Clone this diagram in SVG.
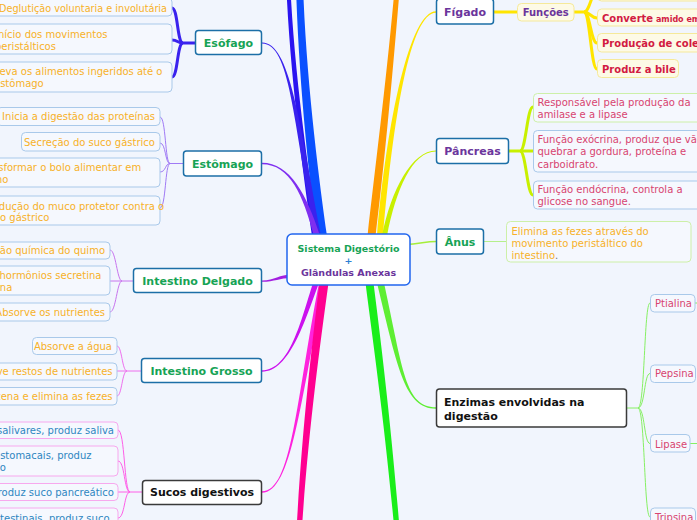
<svg xmlns="http://www.w3.org/2000/svg" width="697" height="520" viewBox="0 0 697 520">
<style>
text{font-family:"DejaVu Sans",Verdana,sans-serif}
.mn rect{fill:#fff;stroke:#1c6fa7;stroke-width:1.5}
.mn text{font-size:11px;font-weight:bold;text-anchor:middle}
.dk rect{stroke:#3a3a3a}
.g{fill:#17a355}
.p{fill:#6b359c}
.k{fill:#111}
.lf rect{fill:#f5f8fe;stroke:#a9c9ea;stroke-width:1}
.lf text{font-size:10px}
.o{fill:#f7b128}
.b{fill:#2e86c1}
.r{fill:#d84470}
.e{text-anchor:end}
.pk rect{stroke:#f7a8ee}
.yl rect{fill:#fdfae6;stroke:#f5e99a}
.yl text{font-weight:bold;fill:#d21b42}
.lg rect{stroke:#cdf0a8}
.cn{fill:none}
</style>
<rect width="697" height="520" fill="#f1f5fd"/>

<g id="connectors">
  <path fill="#2a14f0" d="M285.5,-40 C287.5,60 304,180 312,236 L318,236 C310,180 291.5,60 289.5,-40 Z"/>
  <path fill="#0a50ff" d="M295.5,-40 C296.5,60 309,180 317,236 L327,236 C319,180 303.5,60 302.5,-40 Z"/>
  <path fill="#3a22ee" d="M262,42.5 C290,42.5 299,120 321,236 L315,236 C293,120 290,43.5 262,43.5 Z"/>
  <path fill="#7f2ff0" d="M262,162.8 C290,162.8 307,195 320,236 L314,236 C303,195 290,164.2 262,164.2 Z"/>
  <path fill="#a31fe0" d="M262,280.4 C275,280.4 279,274.5 292,274.5 L292,278 C279,278 275,281.8 262,281.8 Z"/>
  <path fill="#cc11ee" d="M262,370.3 C290,370.3 301,320 313,283 L319,283 C305,320 290,371.7 262,371.7 Z"/>
  <path fill="#ff22dd" d="M262,491.3 C292,491.3 296,400 319,283 L325,283 C300,400 292,492.7 262,492.7 Z"/>
  <path fill="#ff0090" d="M319.5,283 C310,360 300,450 295,560 L300,560 C306,450 318,360 328.5,283 Z"/>
  <path fill="#ff9900" d="M367.5,236 C376,160 389,60 397,-40 L402,-40 C394,60 385,160 375.5,236 Z"/>
  <path fill="#ffe500" d="M436,11.3 C410,11.3 387,120 377,236 L383,236 C393,120 410,12.7 436,12.7 Z"/>
  <path fill="#c8f000" d="M436,150.4 C412,150.4 391,190 382,236 L387,236 C396,190 412,151.6 436,151.6 Z"/>
  <path class="cn" stroke="#a5ee3a" stroke-width="1.6" d="M436,241.5 C425,241.5 420,244 405,244.5"/>
  <path fill="#1aee1a" d="M365.5,283 C374,350 387,440 397,560 L402,560 C393,440 382,350 373.5,283 Z"/>
  <path fill="#5eee33" d="M436,407.3 C405,407.3 403,370 384,283 L377,283 C398,370 405,408.7 436,408.7 Z"/>

  <g class="cn" stroke="#3a22ee" stroke-width="3">
    <path d="M195,43 H183"/>
    <path d="M183,43 C177,43 178,8 172,8"/>
    <path d="M183,43 C177,43 178,40 172,40"/>
    <path d="M183,43 C177,43 178,77 172,77"/>
  </g>
  <g class="cn" stroke="#a07af5" stroke-width="1">
    <path d="M183,163.5 H170"/>
    <path d="M170,163.5 C165,163.5 166,117 160,117"/>
    <path d="M170,163.5 C165,163.5 166,143 160,143"/>
    <path d="M170,163.5 C165,163.5 166,172 160,172"/>
    <path d="M170,163.5 C165,163.5 166,208 160,208"/>
  </g>
  <g class="cn" stroke="#c874ee" stroke-width="1">
    <path d="M133,281 H110"/>
    <path d="M122,281 C117,281 116,250 110,250"/>
    <path d="M122,281 C117,281 116,312 110,312"/>
  </g>
  <g class="cn" stroke="#ee6fee" stroke-width="1">
    <path d="M141,371 H117"/>
    <path d="M127,371 C122,371 122,346 117,346"/>
    <path d="M127,371 C122,371 122,396 117,396"/>
  </g>
  <g class="cn" stroke="#ff5ee8" stroke-width="1">
    <path d="M142,492 H118"/>
    <path d="M130,492 C124,492 125,430 118,430"/>
    <path d="M130,492 C124,492 125,461 118,461"/>
    <path d="M130,492 C124,492 125,518 118,518"/>
  </g>
  <g class="cn" stroke="#ffe500" stroke-width="3">
    <path d="M494,12 H517"/>
    <path d="M574,12 H584"/>
    <path d="M584,12 C590,12 591,-8 597,-8"/>
    <path d="M584,12 C590,12 591,18 597,18"/>
    <path d="M584,12 C590,12 591,43 597,43"/>
    <path d="M584,12 C590,12 591,69 597,69"/>
  </g>
  <g class="cn" stroke="#c8f000" stroke-width="3">
    <path d="M509,151 H533"/>
    <path d="M520,151 C526,151 527,107 533,107"/>
    <path d="M520,151 C526,151 527,195 533,195"/>
  </g>
  <path class="cn" stroke="#b5ef8c" stroke-width="1" d="M483,241.5 H506"/>
  <g class="cn" stroke="#86f063" stroke-width="1">
    <path d="M627,408 H638"/>
    <path d="M638,408 C645,408 644,303 650,303"/>
    <path d="M638,408 C645,408 644,373.5 650,373.5"/>
    <path d="M638,408 C645,408 644,443.5 650,443.5"/>
    <path d="M638,408 C645,408 644,517 650,517"/>
    <path d="M695,303 H705"/>
    <path d="M690,443.5 H705"/>
  </g>
</g>

<g id="center">
  <rect x="287" y="234" width="123" height="51" rx="5" fill="#fff" stroke="#2266ee" stroke-width="1.5"/>
  <text x="348.5" y="251.8" font-size="9.5" font-weight="bold" text-anchor="middle" class="g">Sistema Digestório</text>
  <text x="348.5" y="264" font-size="9.5" font-weight="bold" text-anchor="middle" fill="#2b7fd4">+</text>
  <text x="348.5" y="276" font-size="9.5" font-weight="bold" text-anchor="middle" class="p">Glândulas Anexas</text>
</g>

<g id="esofago" class="mn"><rect x="195.5" y="30.5" width="66" height="24" rx="3"/><text x="228.5" y="47" class="g">Esôfago</text></g>
<g id="estomago" class="mn"><rect x="183.5" y="151" width="78" height="25" rx="3"/><text x="222.5" y="167.5" class="g">Estômago</text></g>
<g id="intestino-delgado" class="mn"><rect x="133.5" y="268.5" width="128" height="24" rx="3"/><text x="197.5" y="285" class="g">Intestino Delgado</text></g>
<g id="intestino-grosso" class="mn"><rect x="141.5" y="358.5" width="120" height="24" rx="3"/><text x="201.5" y="375" class="g">Intestino Grosso</text></g>
<g id="sucos" class="mn dk"><rect x="142.5" y="480.5" width="119" height="24" rx="3"/><text x="202" y="496" class="k">Sucos digestivos</text></g>
<g id="figado" class="mn"><rect x="436.5" y="-1" width="57" height="25" rx="3"/><text x="465" y="16" class="p">Fígado</text></g>
<g id="pancreas" class="mn"><rect x="436.5" y="138.5" width="72" height="25" rx="3"/><text x="472.5" y="155" class="p">Pâncreas</text></g>
<g id="anus" class="mn"><rect x="436.5" y="229" width="47" height="25" rx="3"/><text x="460" y="245.5" class="g">Ânus</text></g>
<g id="enzimas" class="mn dk"><rect x="436.5" y="389" width="190" height="38" rx="3"/><text x="444" y="406" class="k" style="text-anchor:start">Enzimas envolvidas na</text><text x="444" y="420" class="k" style="text-anchor:start">digestão</text></g>

<g id="esofago-1" class="lf"><rect x="-20" y="-2" width="192" height="18" rx="4"/><text x="167" y="11.5" class="o e" textLength="168" lengthAdjust="spacingAndGlyphs">Deglutição voluntaria e involutária</text></g>
<g id="esofago-2" class="lf"><rect x="-20" y="24" width="192" height="30" rx="4"/><text class="o"><tspan x="-5" y="38">Início dos movimentos</tspan><tspan x="-5" y="49.5">peristálticos</tspan></text></g>
<g id="esofago-3" class="lf"><rect x="-20" y="62" width="192" height="30" rx="4"/><text class="o"><tspan x="-6" y="75">Leva os alimentos ingeridos até o</tspan><tspan x="-6" y="87">estômago</tspan></text></g>

<g id="estomago-1" class="lf"><rect x="-3" y="107.5" width="163" height="18" rx="4"/><text x="155" y="120" class="o e">Inicia a digestão das proteínas</text></g>
<g id="estomago-2" class="lf"><rect x="21.5" y="132.5" width="138.5" height="18.5" rx="4"/><text x="155" y="145.5" class="o e">Secreção do suco gástrico</text></g>
<g id="estomago-3" class="lf"><rect x="-30" y="158" width="190" height="29" rx="4"/><text class="o"><tspan x="-23" y="171">Transformar o bolo alimentar em</tspan><tspan x="-23" y="183">quimo</tspan></text></g>
<g id="estomago-4" class="lf"><rect x="-30" y="196" width="190" height="29" rx="4"/><text class="o"><tspan x="-17" y="209.5">Produção do muco protetor contra o</tspan><tspan x="-17" y="221">suco gástrico</tspan></text></g>

<g id="delgado-1" class="lf"><rect x="-40" y="242" width="150" height="17" rx="4"/><text x="105" y="253.5" class="o e">Digestão química do quimo</text></g>
<g id="delgado-2" class="lf"><rect x="-80" y="266" width="190" height="29" rx="4"/><text class="o"><tspan x="-52" y="279">Produz os hormônios secretina</tspan><tspan x="-71" y="291">e colecistocinina</tspan></text></g>
<g id="delgado-3" class="lf"><rect x="-40" y="303" width="150" height="18" rx="4"/><text x="105" y="316" class="o e">Absorve os nutrientes</text></g>

<g id="grosso-1" class="lf"><rect x="32.5" y="337.5" width="84.5" height="17" rx="4"/><text x="112" y="349.5" class="o e">Absorve a água</text></g>
<g id="grosso-2" class="lf"><rect x="-40" y="363" width="157" height="17" rx="4"/><text x="112.5" y="375" class="o e">Absorve restos de nutrientes</text></g>
<g id="grosso-3" class="lf"><rect x="-40" y="387.5" width="157" height="17.5" rx="4"/><text x="112.5" y="400" class="o e">Armazena e elimina as fezes</text></g>

<g id="sucos-1" class="lf pk"><rect x="-80" y="422" width="198" height="16.5" rx="4"/><text x="114" y="433.5" class="b e">Glândulas salivares, produz saliva</text></g>
<g id="sucos-2" class="lf pk"><rect x="-80" y="446" width="198" height="30" rx="4"/><text class="b"><tspan x="-59" y="459">Glândulas estomacais, produz</tspan><tspan x="6" y="471" text-anchor="end">suco gástrico</tspan></text></g>
<g id="sucos-3" class="lf pk"><rect x="-80" y="483.5" width="198" height="17" rx="4"/><text x="114" y="496" class="b e">Pâncreas, produz suco pancreático</text></g>
<g id="sucos-4" class="lf pk"><rect x="-80" y="508" width="198" height="30" rx="4"/><text class="b"><tspan x="-62" y="521.5">Glândulas intestinais, produz suco</tspan><tspan x="-62" y="533.5">entérico</tspan></text></g>

<g id="funcoes" class="lf yl"><rect x="517.5" y="3.5" width="56.5" height="17.5" rx="4"/><text x="545.7" y="16" text-anchor="middle" style="fill:#6b359c">Funções</text></g>
<g id="figado-0" class="lf yl"><rect x="597.5" y="-17" width="130" height="18" rx="4"/></g>
<g id="figado-1" class="lf yl"><rect x="597.5" y="9" width="130" height="17" rx="4"/><text x="602" y="21.5">Converte<tspan font-size="8"> amido em</tspan></text></g>
<g id="figado-2" class="lf yl"><rect x="597.5" y="33.5" width="130" height="18.5" rx="4"/><text x="602" y="46.5">Produção de colesterol</text></g>
<g id="figado-3" class="lf yl"><rect x="597.5" y="59.5" width="81" height="18" rx="4"/><text x="602" y="72.5">Produz a bile</text></g>

<g id="pancreas-1" class="lf lg"><rect x="533.5" y="93.5" width="170" height="28.5" rx="4"/><text class="r"><tspan x="537.5" y="105.5">Responsável pela produção da</tspan><tspan x="537.5" y="117.5">amilase e a lipase</tspan></text></g>
<g id="pancreas-2" class="lf"><rect x="533.5" y="130.5" width="170" height="41.5" rx="4"/><text class="r"><tspan x="537.5" y="143">Função exócrina, produz que vão</tspan><tspan x="537.5" y="155.3">quebrar a gordura, proteína e</tspan><tspan x="537.5" y="167.5">carboidrato.</tspan></text></g>
<g id="pancreas-3" class="lf"><rect x="533.5" y="181" width="170" height="28" rx="4"/><text class="r"><tspan x="537.5" y="192.5">Função endócrina, controla a</tspan><tspan x="537.5" y="205">glicose no sangue.</tspan></text></g>

<g id="anus-1" class="lf lg"><rect x="506.5" y="221.5" width="184.5" height="40.5" rx="4"/><text class="o"><tspan x="511.5" y="234.5">Elimina as fezes através do</tspan><tspan x="511.5" y="246.8">movimento peristáltico do</tspan><tspan x="511.5" y="258.5">intestino<tspan fill="#777">.</tspan></tspan></text></g>

<g id="ptialina" class="lf"><rect x="650.5" y="294.5" width="44.5" height="17.5" rx="4"/><text x="655" y="306.5" class="r">Ptialina</text></g>
<g id="pepsina" class="lf"><rect x="650.5" y="365" width="45" height="17.5" rx="4"/><text x="655" y="377" class="r">Pepsina</text></g>
<g id="lipase" class="lf"><rect x="650.5" y="434.5" width="39.5" height="17.5" rx="4"/><text x="655" y="447.5" class="r">Lipase</text></g>
<g id="tripsina" class="lf"><rect x="650.5" y="508" width="45" height="18" rx="4"/><text x="655" y="520.5" class="r">Tripsina</text></g>
</svg>
